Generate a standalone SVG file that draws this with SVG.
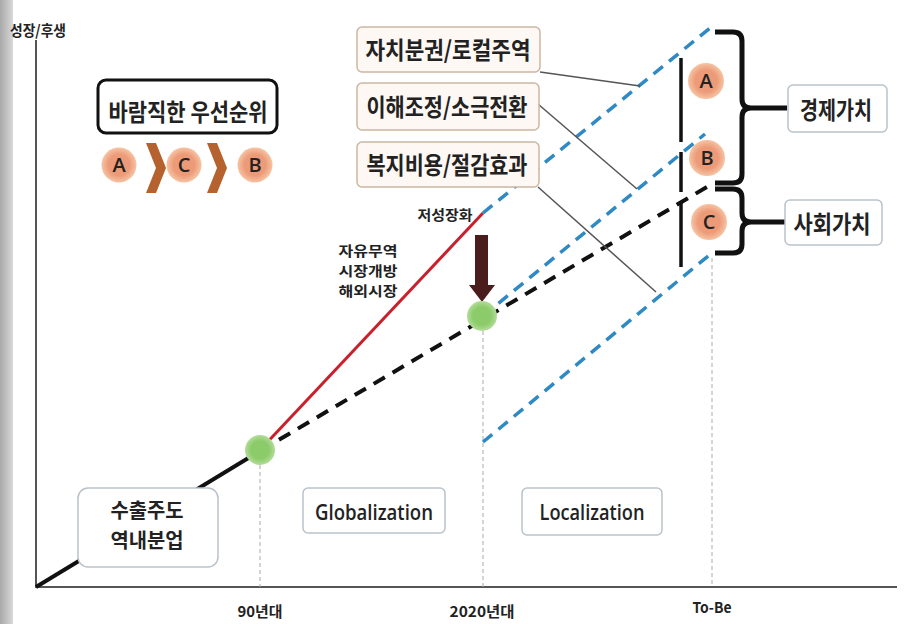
<svg xmlns="http://www.w3.org/2000/svg" width="911" height="624" viewBox="0 0 911 624">
<defs>
<style>
.kr{font-family:"Noto Sans CJK KR","Noto Sans",sans-serif;font-weight:700;fill:#222;}
.en{font-family:"Open Sans","Liberation Sans",sans-serif;font-weight:600;fill:#222;}
.lbox{fill:#fdf8f3;stroke:#cbb7a3;stroke-width:1.5;}
.gbox{fill:#fff;stroke:#b9c2ca;stroke-width:1.5;}
.blue{stroke:#2f8ac4;stroke-width:3.5;stroke-dasharray:12 8;fill:none;}
.bdash{stroke:#111;stroke-width:4;stroke-dasharray:13 9;fill:none;}
.thin{stroke:#555;stroke-width:1.5;fill:none;}
.vdot{stroke:#aaa;stroke-width:1;stroke-dasharray:4 3;}
.brace{stroke:#111;stroke-width:5;fill:none;stroke-linejoin:round;}
.vbar{stroke:#111;stroke-width:3.5;}
.axis{stroke:#555;stroke-width:2;}
.sal{fill:url(#sal);}
.grn{fill:url(#grn);}
.chev{fill:#b5622e;}
</style>
<radialGradient id="sal"><stop offset="0.6" stop-color="#ec9a78"/><stop offset="1" stop-color="#f6c4a4"/></radialGradient>
<radialGradient id="grn"><stop offset="0.6" stop-color="#8ccb6a"/><stop offset="1" stop-color="#b3dd9a"/></radialGradient>
<linearGradient id="edge" x1="0" x2="1"><stop offset="0" stop-color="#a9a9a9"/><stop offset="1" stop-color="#d9d9d9"/></linearGradient>
</defs>
<rect x="0" y="0" width="911" height="624" fill="#fff"/>
<rect x="0" y="0" width="13" height="624" fill="url(#edge)"/>

<g id="axes">
<line class="axis" x1="36" y1="40" x2="36" y2="588"/>
<line class="axis" x1="35" y1="587" x2="897" y2="587"/>
<text class="kr" x="38" y="36" font-size="15" text-anchor="middle" textLength="56" lengthAdjust="spacingAndGlyphs">성장/후생</text>
<line class="vdot" x1="260" y1="465" x2="260" y2="587"/>
<line class="vdot" x1="483" y1="331" x2="483" y2="587"/>
<line class="vdot" x1="712" y1="258" x2="712" y2="587"/>
<text class="kr" x="260" y="617" font-size="15" text-anchor="middle" textLength="45" lengthAdjust="spacingAndGlyphs">90년대</text>
<text class="kr" x="482" y="617" font-size="15" text-anchor="middle" textLength="65" lengthAdjust="spacingAndGlyphs">2020년대</text>
<text class="kr" x="712" y="613" font-size="15" text-anchor="middle" textLength="39" lengthAdjust="spacingAndGlyphs">To-Be</text>
</g>

<g id="connectors">
<line x1="36" y1="587" x2="260" y2="451" stroke="#111" stroke-width="4"/>
<line class="bdash" x1="260" y1="451" x2="712" y2="184"/>
<line x1="260" y1="450" x2="483" y2="213" stroke="#c8202c" stroke-width="3"/>
<line class="blue" x1="483" y1="213" x2="710" y2="28"/>
<line class="blue" x1="483" y1="316" x2="705" y2="134"/>
<line class="blue" x1="483" y1="442" x2="713" y2="252"/>
<line class="thin" x1="540" y1="72" x2="640" y2="86"/>
<line class="thin" x1="538" y1="104" x2="637" y2="189"/>
<line class="thin" x1="538" y1="187" x2="656" y2="292"/>
<rect x="475" y="235" width="13" height="51" fill="#4b1c1c"/>
<polygon points="469,285 495,285 482,302" fill="#4b1c1c"/>
<line class="vbar" x1="681" y1="58" x2="681" y2="142"/>
<line class="vbar" x1="681" y1="152" x2="681" y2="192"/>
<line class="vbar" x1="681" y1="202" x2="681" y2="267"/>
<path class="brace" d="M715,32 H733 Q742,32 742,41 V99 Q742,108 751,108 H787 M751,108 Q742,108 742,117 V174 Q742,183 733,183 H715"/>
<path class="brace" d="M715,189 H733 Q742,189 742,198 V213 Q742,222 751,222 H785 M751,222 Q742,222 742,231 V244 Q742,253 733,253 H715"/>
</g>

<g id="point-90s"><circle class="grn" cx="260" cy="450" r="15"/></g>
<g id="point-2020s"><circle class="grn" cx="482" cy="316" r="15"/></g>

<g id="priority">
<rect x="98" y="80" width="179" height="53" rx="8" fill="#fff" stroke="#111" stroke-width="3"/>
<text class="kr" x="188" y="121" font-size="24" text-anchor="middle" textLength="159" lengthAdjust="spacingAndGlyphs">바람직한 우선순위</text>
<circle class="sal" cx="119" cy="165" r="17.5"/>
<text class="en" x="119" y="172" font-size="20" text-anchor="middle" font-weight="700">A</text>
<polygon class="chev" points="146,143 156,143 166,168 156,193 146,193 156,168"/>
<circle class="sal" cx="184" cy="165" r="17.5"/>
<text class="en" x="184" y="172" font-size="20" text-anchor="middle" font-weight="700">C</text>
<polygon class="chev" points="207,143 217,143 227,168 217,193 207,193 217,168"/>
<circle class="sal" cx="255" cy="165" r="17.5"/>
<text class="en" x="255" y="172" font-size="20" text-anchor="middle" font-weight="700">B</text>
</g>

<g id="box-local">
<rect class="lbox" x="357" y="27" width="183" height="45" rx="5"/>
<text class="kr" x="448" y="59" font-size="24" text-anchor="middle" textLength="165" lengthAdjust="spacingAndGlyphs">자치분권/로컬주역</text>
</g>
<g id="box-conflict">
<rect class="lbox" x="357" y="83" width="182" height="47" rx="5"/>
<text class="kr" x="447" y="116" font-size="24" text-anchor="middle" textLength="161" lengthAdjust="spacingAndGlyphs">이해조정/소극전환</text>
</g>
<g id="box-welfare">
<rect class="lbox" x="357" y="142" width="182" height="45" rx="5"/>
<text class="kr" x="447" y="174" font-size="24" text-anchor="middle" textLength="161" lengthAdjust="spacingAndGlyphs">복지비용/절감효과</text>
</g>

<g id="label-slow">
<text class="kr" x="445" y="220" font-size="14" text-anchor="middle" textLength="55" lengthAdjust="spacingAndGlyphs">저성장화</text>
</g>
<g id="label-trade">
<text class="kr" x="368" y="256" font-size="13.5" text-anchor="middle" textLength="59" lengthAdjust="spacingAndGlyphs">자유무역</text>
<text class="kr" x="368" y="276" font-size="13.5" text-anchor="middle" textLength="59" lengthAdjust="spacingAndGlyphs">시장개방</text>
<text class="kr" x="368" y="296" font-size="13.5" text-anchor="middle" textLength="59" lengthAdjust="spacingAndGlyphs">해외시장</text>
</g>

<g id="values">
<circle class="sal" cx="706" cy="81" r="18"/>
<text class="en" x="706" y="88" font-size="20" text-anchor="middle" font-weight="700">A</text>
<circle class="sal" cx="707" cy="158" r="18"/>
<text class="en" x="707" y="165" font-size="20" text-anchor="middle" font-weight="700">B</text>
<circle class="sal" cx="709" cy="222" r="18"/>
<text class="en" x="709" y="229" font-size="20" text-anchor="middle" font-weight="700">C</text>
</g>

<g id="box-economic">
<rect class="gbox" x="788" y="85" width="99" height="47" rx="5"/>
<text class="kr" x="836" y="119" font-size="24" text-anchor="middle" textLength="72" lengthAdjust="spacingAndGlyphs">경제가치</text>
</g>
<g id="box-social">
<rect class="gbox" x="785" y="200" width="97" height="45" rx="5"/>
<text class="kr" x="832" y="233" font-size="24" text-anchor="middle" textLength="77" lengthAdjust="spacingAndGlyphs">사회가치</text>
</g>

<g id="box-export">
<rect class="gbox" x="78" y="488" width="140" height="79" rx="10" stroke="#aabfd0"/>
<text class="kr" x="147" y="518" font-size="20" text-anchor="middle" textLength="73" lengthAdjust="spacingAndGlyphs">수출주도</text>
<text class="kr" x="147" y="548" font-size="20" text-anchor="middle" textLength="73" lengthAdjust="spacingAndGlyphs">역내분업</text>
</g>
<g id="box-globalization">
<rect class="gbox" x="303" y="488" width="142" height="45" rx="5"/>
<text class="en" x="374" y="520" font-size="21" text-anchor="middle" textLength="118" lengthAdjust="spacingAndGlyphs">Globalization</text>
</g>
<g id="box-localization">
<rect class="gbox" x="522" y="488" width="140" height="47" rx="5"/>
<text class="en" x="592" y="520" font-size="21" text-anchor="middle" textLength="105" lengthAdjust="spacingAndGlyphs">Localization</text>
</g>
</svg>
